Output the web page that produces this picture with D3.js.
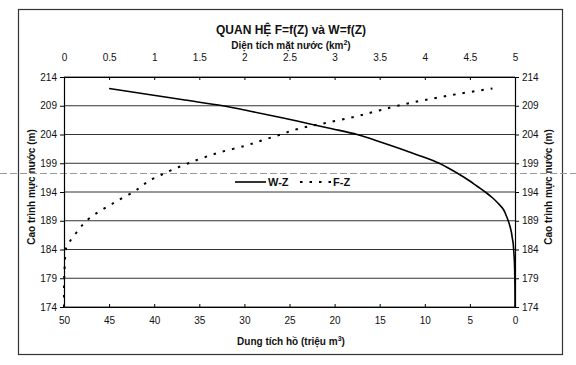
<!DOCTYPE html>
<html>
<head>
<meta charset="utf-8">
<script src="https://cdn.jsdelivr.net/npm/d3@7"></script>
<style>
  html, body { margin: 0; padding: 0; background: #fff; }
  svg { display: block; font-family: "Liberation Sans", Arial, sans-serif; }
</style>
</head>
<body>
<svg id="chart" width="576" height="365"></svg>
<script>
// ---- data ----
const elevations = [174, 176, 178, 180, 182, 184, 185, 186, 187, 188, 189, 190, 191, 192, 193, 194, 195, 196, 197, 198, 199, 200, 201, 202, 203, 204, 205, 206, 207, 208, 209, 210, 211, 212];
// W-Z : reservoir volume (million m3), bottom axis
const volume = [0, 0, 0.01, 0.03, 0.07, 0.15, 0.2, 0.3, 0.4, 0.55, 0.75, 1.0, 1.3, 1.85, 2.5, 3.3, 4.2, 5.1, 6.1, 7.2, 8.4, 10.0, 11.8, 13.6, 15.5, 17.5, 20.3, 23.2, 26.1, 29.2, 32.4, 36.6, 40.8, 45.0];
// F-Z : water surface area (km2), top axis
const area = [0, 0, 0, 0.005, 0.01, 0.02, 0.05, 0.09, 0.14, 0.19, 0.25, 0.33, 0.43, 0.54, 0.65, 0.77, 0.86, 0.95, 1.08, 1.22, 1.38, 1.55, 1.75, 2.0, 2.2, 2.4, 2.6, 2.9, 3.2, 3.45, 3.7, 4.0, 4.35, 4.75];

const elevationTicks = [174, 179, 184, 189, 194, 199, 204, 209, 214];
const areaTicks = [0, 0.5, 1, 1.5, 2, 2.5, 3, 3.5, 4, 4.5, 5];
const volumeTicks = [50, 45, 40, 35, 30, 25, 20, 15, 10, 5, 0];

const titleText = "QUAN HỆ F=f(Z) và W=f(Z)";
const topAxisTitle = "Diện tích mặt nước (km²)";
const bottomAxisTitle = "Dung tích hồ (triệu m³)";
const yAxisTitle = "Cao trình mực nước (m)";
const seriesNames = ["W-Z", "F-Z"];

// ---- layout ----
const svg = d3.select("#chart");
const L = 64, R = 515, T = 77, B = 307;

const y = d3.scaleLinear().domain([174, 214]).range([B, T]);
const xF = d3.scaleLinear().domain([0, 5]).range([L, R]);
const xW = d3.scaleLinear().domain([50, 0]).range([L, R]);

// outer frame
svg.append("rect").attr("x", 18.5).attr("y", 9.5).attr("width", 544).attr("height", 345)
  .attr("fill", "none").attr("stroke", "#333").attr("stroke-width", 1.2);

// horizontal grid lines
svg.append("g").selectAll("line").data(elevationTicks).join("line")
  .attr("x1", L).attr("x2", R)
  .attr("y1", d => y(d)).attr("y2", d => y(d))
  .attr("stroke", "#333").attr("stroke-width", 1);

// scan artifact dashed line across the page
svg.append("line").attr("x1", 0).attr("x2", 576).attr("y1", 173.5).attr("y2", 173.5)
  .attr("stroke", "#999").attr("stroke-width", 1).attr("stroke-dasharray", "7,3");

function styleAxis(g) {
  g.select(".domain").attr("stroke", "#000").attr("stroke-width", 1.2);
  g.selectAll(".tick line").attr("stroke", "#000");
  g.selectAll(".tick text").attr("fill", "#111").style("font-size", "10px")
    .style("font-family", "'Liberation Sans', Arial, sans-serif");
}

svg.append("g").attr("transform", `translate(${L},0)`)
  .call(d3.axisLeft(y).tickValues(elevationTicks).tickSize(4).tickPadding(3).tickSizeOuter(0))
  .call(styleAxis);
svg.append("g").attr("transform", `translate(${R},0)`)
  .call(d3.axisRight(y).tickValues(elevationTicks).tickSize(4).tickPadding(3).tickSizeOuter(0))
  .call(styleAxis);
svg.append("g").attr("transform", `translate(0,${T})`)
  .call(d3.axisTop(xF).tickValues(areaTicks).tickFormat(d3.format("")).tickSize(-3).tickPadding(16).tickSizeOuter(0))
  .call(styleAxis);
svg.append("g").attr("transform", `translate(0,${B})`)
  .call(d3.axisBottom(xW).tickValues(volumeTicks).tickFormat(d3.format("")).tickSize(-3).tickPadding(10).tickSizeOuter(0))
  .call(styleAxis);

// titles
svg.append("text").attr("x", 291).attr("y", 34).attr("text-anchor", "middle")
  .style("font-size", "12px").style("font-weight", "bold").attr("fill", "#111").text(titleText);

function supText(sel, text, x, yy) {
  const base = text.slice(0, -2), sup = text.slice(-2, -1), tail = text.slice(-1);
  const t = svg.append("text").attr("x", x).attr("y", yy).attr("text-anchor", "middle")
    .style("font-size", "10px").style("font-weight", "bold").attr("fill", "#111");
  t.append("tspan").text(base);
  t.append("tspan").attr("dy", -4).style("font-size", "7px").text(sup === "²" ? "2" : "3");
  t.append("tspan").attr("dy", 4).text(tail);
}
supText(svg, topAxisTitle, 291, 49);
supText(svg, bottomAxisTitle, 291, 345);

svg.append("text").attr("transform", "translate(35,187) rotate(-90)").attr("text-anchor", "middle")
  .style("font-size", "10px").style("font-weight", "bold").attr("fill", "#111").text(yAxisTitle);
svg.append("text").attr("transform", "translate(552,187) rotate(-90)").attr("text-anchor", "middle")
  .style("font-size", "10px").style("font-weight", "bold").attr("fill", "#111").text(yAxisTitle);

// series
const wData = elevations.map((z, i) => ({ z, v: volume[i] }));
const fData = elevations.map((z, i) => ({ z, v: area[i] }));

svg.append("path").datum(wData)
  .attr("d", d3.line().x(d => xW(d.v)).y(d => y(d.z)).curve(d3.curveMonotoneY))
  .attr("fill", "none").attr("stroke", "#000").attr("stroke-width", 1.6);

svg.append("path").datum(fData)
  .attr("d", d3.line().x(d => xF(d.v)).y(d => y(d.z)).curve(d3.curveMonotoneY))
  .attr("fill", "none").attr("stroke", "#000").attr("stroke-width", 2)
  .attr("stroke-dasharray", "2.5,7");

// legend
const lg = svg.append("g").attr("transform", "translate(235,182)");
lg.append("line").attr("x1", 0).attr("x2", 31).attr("y1", 0).attr("y2", 0)
  .attr("stroke", "#000").attr("stroke-width", 1.6);
lg.append("text").attr("x", 33).attr("y", 4).style("font-size", "11px").style("font-weight", "bold")
  .attr("fill", "#111").text(seriesNames[0]);
lg.append("line").attr("x1", 65).attr("x2", 96).attr("y1", 0).attr("y2", 0)
  .attr("stroke", "#000").attr("stroke-width", 2).attr("stroke-dasharray", "2.5,7");
lg.append("text").attr("x", 98).attr("y", 4).style("font-size", "11px").style("font-weight", "bold")
  .attr("fill", "#111").text(seriesNames[1]);
</script>
</body>
</html>
